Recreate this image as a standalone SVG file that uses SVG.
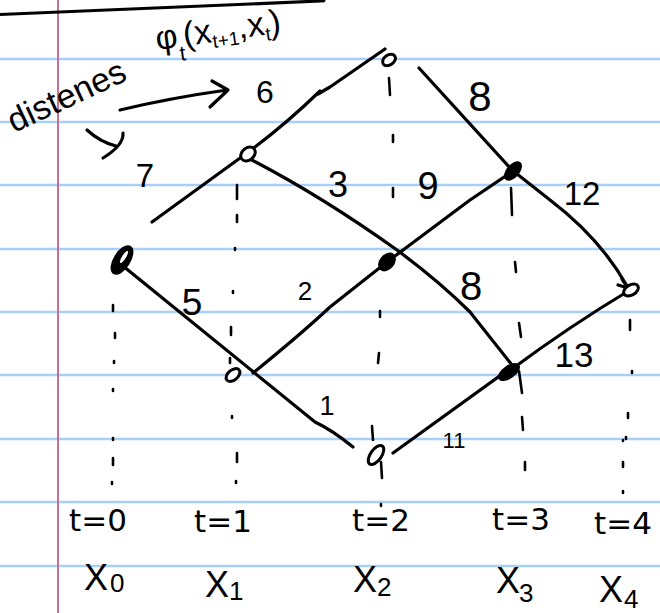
<svg xmlns="http://www.w3.org/2000/svg" width="660" height="613" viewBox="0 0 660 613">
<style>
.rule{stroke:#a8cff8;stroke-width:2.5}
.margin{stroke:#c7708f;stroke-width:2}
.ink{stroke:#000;stroke-width:3.2;fill:none;stroke-linecap:round;stroke-linejoin:round}
.tick{stroke:#000;stroke-width:2.6;stroke-linecap:round;fill:none}
.node{stroke:#000;stroke-width:3;fill:#fff}
.solid{stroke:#000;stroke-width:3;fill:#000}
text{font-family:"Liberation Sans","DejaVu Sans",sans-serif;fill:#000}
.num{text-anchor:middle}
.lab{font-family:"DejaVu Sans",sans-serif;font-size:31px;text-anchor:middle}
.xv{font-size:36px}
.sub{font-size:26px}
</style>
<rect width="660" height="613" fill="#fff"/>
<g id="paper">
<line class="rule" x1="0" y1="59" x2="660" y2="59"/>
<line class="rule" x1="0" y1="122" x2="660" y2="122"/>
<line class="rule" x1="0" y1="185" x2="660" y2="185"/>
<line class="rule" x1="0" y1="249" x2="660" y2="249"/>
<line class="rule" x1="0" y1="312" x2="660" y2="312"/>
<line class="rule" x1="0" y1="375" x2="660" y2="375"/>
<line class="rule" x1="0" y1="439" x2="660" y2="439"/>
<line class="rule" x1="0" y1="502" x2="660" y2="502"/>
<line class="rule" x1="0" y1="566" x2="660" y2="566"/>
<line class="margin" x1="58" y1="0" x2="58" y2="613"/>
<path class="ink" d="M0,14.5 Q160,8 321,1"/>
<circle cx="323" cy="0" r="2.5"/>
</g>
<g id="annotation">
<text x="14" y="133" font-size="34" transform="rotate(-25 14 133)">distenes</text>
<text x="157" y="50" font-size="34" transform="rotate(-8 157 50)">φ<tspan font-size="21" dy="14">t</tspan><tspan dy="-14">(x</tspan><tspan font-size="19" dy="6">t+1</tspan><tspan dy="-6">,x</tspan><tspan font-size="19" dy="6">t</tspan><tspan dy="-6">)</tspan></text>
<path class="ink" d="M120,110 Q170,98 227,90 M212,81 L228,90 L210,107"/>
<path class="ink" d="M87,130 Q100,142 116,146 M123,133 Q124,145 103,158"/>
</g>
<g id="columns">
<path class="tick" d="M113,305 L113,311 M115,333 L115,338 M114,361 L114,363 M113,389 L113,391 M113,438 L113,440 M113,458 L113,465 M112,482 L112,484"/>
<path class="tick" d="M237,185 L237,199 M237,215 L237,222 M235,248 L235,250 M233,291 L233,293 M231,327 L231,335 M230,358 L230,363 M232,416 L232,418 M237,453 L237,462 M236,481 L236,483"/>
<path class="tick" d="M389,78 L390,95 M393,135 L393,142 M393,188 L393,197 M380,311 L380,317 M379,353 L378,363 M372,426 L373,440 M381,462 L382,478 M381,504 L381,506"/>
<path class="tick" d="M511,188 L512,215 M515,262 L516,272 M519,323 L521,337 M519,371 L522,393 M522,417 L523,430 M525,462 L525,470"/>
<path class="tick" d="M630,320 L630,330 M632,371 L632,373 M628,413 L628,418 M626,437 L626,439 M623,440 L623,441 M623,462 L623,467 M623,491 L623,493"/>
</g>
<g id="connectors">
<path class="ink" d="M152,222 L247,153"/>
<path class="ink" d="M247,153 Q285,125 320,91 M318,94 L330,87 L385,49"/>
<path class="ink" d="M419,68 L512,170 L550,200 Q600,238 627,286 M622,279 L628,288 L618,285"/>
<path class="ink" d="M248,158 Q320,195 397,250 Q440,282 470,312 L512,365"/>
<path class="ink" d="M253,373 Q300,335 330,307 L387,262 L470,200 L510,173"/>
<path class="ink" d="M123,266 L315,422 Q332,430 353,447"/>
<path class="ink" d="M393,453 L512,367"/>
<path class="ink" d="M512,369 Q570,326 630,290"/>
</g>
<g id="edge-labels">
<text class="num" x="145" y="187" font-size="33">7</text>
<text class="num" x="265" y="103" font-size="32">6</text>
<text class="num" x="480" y="111" font-size="42">8</text>
<text class="num" x="338" y="197" font-size="36">3</text>
<text class="num" x="428" y="199" font-size="38">9</text>
<text class="num" x="582" y="205" font-size="33">12</text>
<text class="num" x="192" y="315" font-size="37">5</text>
<text class="num" x="305" y="300" font-size="26">2</text>
<text class="num" x="471" y="300" font-size="40">8</text>
<text class="num" x="574" y="367" font-size="35">13</text>
<text class="num" x="327" y="415" font-size="27">1</text>
<text class="num" x="454" y="448" font-size="22">11</text>
</g>
<g id="node-x0"><ellipse class="solid" cx="122" cy="260" rx="15" ry="7" transform="rotate(-58 122 260)"/><ellipse cx="124" cy="257" rx="7" ry="2" fill="#fff" transform="rotate(-58 124 257)"/></g>
<g id="node-x1-top"><ellipse class="node" cx="248" cy="154" rx="8" ry="6" transform="rotate(-40 248 154)"/></g>
<g id="node-x1-bottom"><ellipse class="node" cx="233" cy="375" rx="8" ry="5" transform="rotate(-40 233 375)"/></g>
<g id="node-x2-top"><ellipse class="node" cx="389" cy="60" rx="7" ry="5" transform="rotate(-35 389 60)"/></g>
<g id="node-x2-mid"><ellipse class="solid" cx="387" cy="262" rx="9" ry="6" transform="rotate(-50 387 262)"/></g>
<g id="node-x2-bottom"><ellipse class="node" cx="376" cy="455" rx="11" ry="5.5" transform="rotate(-55 376 455)"/></g>
<g id="node-x3-top"><ellipse class="solid" cx="513" cy="171" rx="10" ry="5" transform="rotate(-50 513 171)"/></g>
<g id="node-x3-bottom"><ellipse class="solid" cx="509" cy="372" rx="11" ry="5" transform="rotate(-35 509 372)"/></g>
<g id="node-x4"><ellipse class="node" cx="631" cy="290" rx="8" ry="5" transform="rotate(-30 631 290)"/></g>
<g id="axis-labels">
<text class="lab" x="98" y="531">t=0</text>
<text class="lab" x="223" y="532">t=1</text>
<text class="lab" x="381" y="531">t=2</text>
<text class="lab" x="521" y="530">t=3</text>
<text class="lab" x="623" y="534">t=4</text>
<text class="xv" x="84" y="590">X<tspan class="sub" x="110" y="592">0</tspan></text>
<text class="xv" x="205" y="597">X<tspan class="sub" x="229" y="600">1</tspan></text>
<text class="xv" x="353" y="592">X<tspan class="sub" x="377" y="596">2</tspan></text>
<text class="xv" x="496" y="593">X<tspan class="sub" x="519" y="602">3</tspan></text>
<text class="xv" x="599" y="602">X<tspan class="sub" x="624" y="608">4</tspan></text>
</g>
</svg>
